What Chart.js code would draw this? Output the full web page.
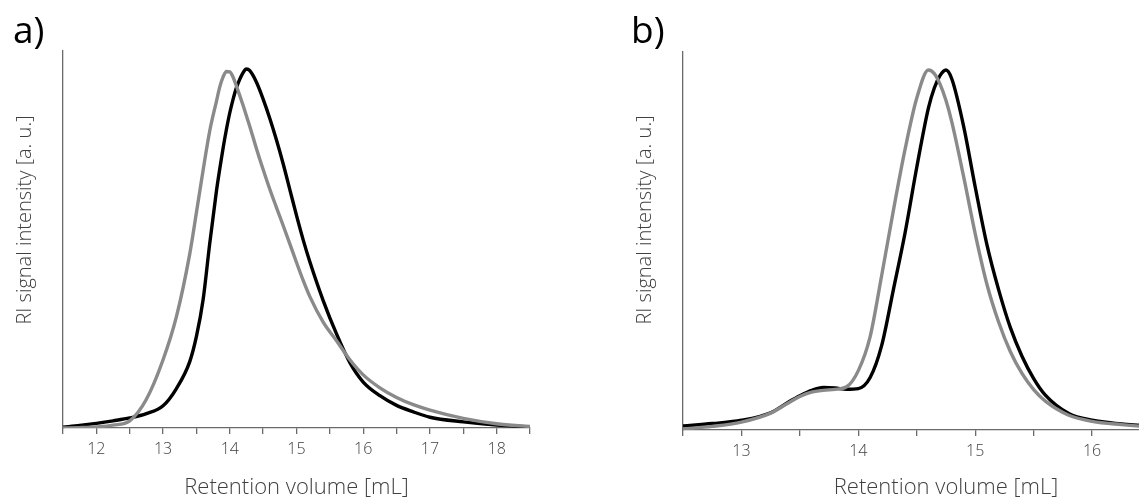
<!DOCTYPE html>
<html>
<head>
<meta charset="utf-8">
<script src="https://cdn.jsdelivr.net/npm/chart.js@4/dist/chart.umd.min.js"></script>
<style>
  html, body { margin: 0; padding: 0; background: #fff; overflow: hidden; width: 1139px; height: 499px; }
  .wrap { position: absolute; top: 0; height: 499px; }
  .panel-label { position: absolute; font-family: "Open Sans", sans-serif; font-size: 37px; color: #000; line-height: 1; }
  .ytitle { position: absolute; font-family: "Open Sans", sans-serif; font-weight: 300; font-size: 20px; color: #404040;
            white-space: nowrap; line-height: 1; transform: translate(-50%, -50%) rotate(-90deg); }
</style>
</head>
<body>
<div class="wrap" style="left:0;width:570px"><canvas id="chartA"></canvas></div>
<div class="wrap" style="left:570px;width:680px"><canvas id="chartB"></canvas></div>
<div class="panel-label" style="left:13px;top:10px">a)</div>
<div class="panel-label" style="left:631px;top:10px">b)</div>
<div class="ytitle" style="left:24px;top:220px">RI signal intensity [a. u.]</div>
<div class="ytitle" style="left:644px;top:220px">RI signal intensity [a. u.]</div>
<script>
// panel a) retention volume grid and RI traces
const volumeA = [11.5, 11.75, 12.0, 12.25, 12.5, 12.75, 13.0, 13.2, 13.4, 13.5, 13.6, 13.7, 13.8, 13.85, 13.9, 13.95, 14.0, 14.05,
  14.1, 14.2, 14.25, 14.3, 14.4, 14.5, 14.6, 14.7, 14.8, 14.9, 15.0, 15.1, 15.2, 15.4, 15.6, 15.8, 16.0,
  16.25, 16.5, 16.75, 17.0, 17.5, 18.0, 18.5];
const grayA = [0.000, 0.001, 0.003, 0.008, 0.020, 0.080, 0.190, 0.310, 0.485, 0.600, 0.718, 0.828, 0.910, 0.950, 0.978, 0.993, 0.992, 0.977,
  0.952, 0.898, 0.869, 0.840, 0.778, 0.720, 0.665, 0.614, 0.564, 0.513, 0.461, 0.411, 0.366, 0.295, 0.243, 0.190, 0.148,
  0.112, 0.085, 0.065, 0.050, 0.027, 0.012, 0.004];
const blackA = [0.002, 0.007, 0.013, 0.020, 0.028, 0.040, 0.062, 0.110, 0.185, 0.255, 0.357, 0.515, 0.660, 0.722, 0.780, 0.832, 0.878, 0.916,
  0.948, 0.990, 1.000, 0.995, 0.963, 0.916, 0.862, 0.802, 0.736, 0.664, 0.592, 0.524, 0.463, 0.355, 0.262, 0.182, 0.128,
  0.090, 0.063, 0.045, 0.030, 0.017, 0.008, 0.003];

// panel b)
const volumeB = [12.5, 12.75, 13.0, 13.25, 13.4, 13.5, 13.6, 13.7, 13.8, 13.9, 14.0, 14.1, 14.2, 14.3, 14.4, 14.5, 14.6,
  14.65, 14.7, 14.75, 14.8, 14.9, 15.0, 15.1, 15.2, 15.3, 15.4, 15.5, 15.6, 15.8, 16.0, 16.25, 16.5, 16.75, 17.0];
const grayB = [0.003, 0.010, 0.022, 0.047, 0.075, 0.093, 0.105, 0.110, 0.113, 0.120, 0.165, 0.258, 0.430, 0.610, 0.780, 0.922, 1.000,
  0.990, 0.960, 0.915, 0.855, 0.705, 0.545, 0.405, 0.300, 0.218, 0.157, 0.112, 0.080, 0.041, 0.024, 0.015, 0.009, 0.006, 0.004];
const blackB = [0.011, 0.018, 0.027, 0.048, 0.077, 0.095, 0.110, 0.118, 0.117, 0.113, 0.115, 0.145, 0.235, 0.390, 0.548, 0.730, 0.895,
  0.950, 0.985, 1.000, 0.975, 0.845, 0.675, 0.515, 0.390, 0.285, 0.205, 0.143, 0.097, 0.046, 0.027, 0.017, 0.011, 0.007, 0.005];

const xTitle = 'Retention volume [mL]';
const AXIS_COLOR = '#6a6a6a';
const TEXT_COLOR = '#404040';

function toPoints(xs, ys) {
  return xs.map((x, i) => ({ x: x, y: ys[i] }));
}

function makeChart(id, xs, gray, black, xMin, xMax, pad, yWidth, xHeight) {
  return new Chart(document.getElementById(id), {
    type: 'line',
    data: {
      datasets: [
        { label: 'gray', data: toPoints(xs, gray), borderColor: '#8a8a8a', borderWidth: 3.4,
          pointRadius: 0, cubicInterpolationMode: 'monotone', fill: false },
        { label: 'black', data: toPoints(xs, black), borderColor: '#000000', borderWidth: 3.4,
          pointRadius: 0, cubicInterpolationMode: 'monotone', fill: false }
      ]
    },
    options: {
      responsive: true,
      maintainAspectRatio: false,
      animation: false,
      layout: { padding: pad },
      plugins: { legend: { display: false }, tooltip: { enabled: false } },
      scales: {
        x: {
          type: 'linear',
          min: xMin,
          max: xMax,
          afterFit: function(scale) { scale.height = xHeight; },
          border: { display: true, color: AXIS_COLOR, width: 1.3 },
          grid: { display: true, drawOnChartArea: false, drawTicks: true, tickLength: 6, color: AXIS_COLOR, lineWidth: 1.3 },
          ticks: {
            stepSize: 0.5,
            autoSkip: false,
            maxRotation: 0,
            padding: 6,
            color: TEXT_COLOR,
            font: { family: 'Open Sans', size: 16, weight: '300' },
            callback: function(value) { return Number.isInteger(value) ? String(value) : ''; }
          },
          title: {
            display: true,
            text: xTitle,
            color: TEXT_COLOR,
            padding: { top: 0, bottom: 0 },
            font: { family: 'Open Sans', size: 22, weight: '300', lineHeight: 1 }
          }
        },
        y: {
          min: 0,
          max: 1.05,
          afterFit: function(scale) { scale.width = yWidth; },
          border: { display: true, color: AXIS_COLOR, width: 1.3 },
          grid: { display: false },
          ticks: { display: false }
        }
      }
    }
  });
}

makeChart('chartA', volumeA, grayA, blackA, 11.5, 18.5, { top: 51, right: 40, left: 0, bottom: 0 }, 63, 71);
makeChart('chartB', volumeB, grayB, blackB, 12.5, 17.0, { top: 52, right: 41, left: 0, bottom: 0 }, 113, 69);
</script>
</body>
</html>
